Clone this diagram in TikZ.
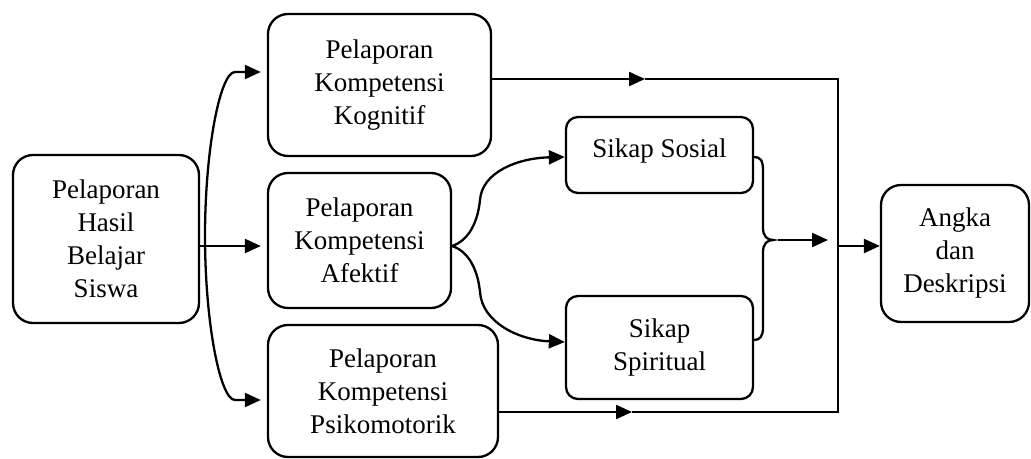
\documentclass[tikz,border=0pt]{standalone}
\usepackage{fontspec}
\setmainfont{Liberation Serif}
\usetikzlibrary{arrows.meta,calc}
\begin{document}
\begin{tikzpicture}[x=1pt,y=-1pt,line width=2.3pt,
  box/.style={draw,rounded corners=20pt,align=center,inner sep=0pt,
    font=\fontsize{27}{33}\selectfont},
  smallbox/.style={box,rounded corners=12pt},
  arr/.style={-{Triangle[length=16pt,width=14pt]}}]
\useasboundingbox (0,0) rectangle (1031,458);

\node[box,minimum width=186pt,minimum height=168pt] (hasil) at (106,239) {Pelaporan\\Hasil\\Belajar\\Siswa};
\node[box,minimum width=223pt,minimum height=142pt] (kog) at (379.5,85) {Pelaporan\\Kompetensi\\Kognitif};
\node[box,minimum width=183pt,minimum height=135pt] (afek) at (359.5,240.5) {Pelaporan\\Kompetensi\\Afektif};
\node[box,minimum width=230pt,minimum height=132pt] (psi) at (383,391) {Pelaporan\\Kompetensi\\Psikomotorik};
\node[smallbox,minimum width=187pt,minimum height=76pt,text depth=14pt] (sos) at (659.5,155) {Sikap Sosial};
\node[smallbox,minimum width=187pt,minimum height=103pt] (spi) at (659.5,347.5) {Sikap\\Spiritual};
\node[box,minimum width=148pt,minimum height=137pt] (ang) at (955,253.5) {Angka\\dan\\Deskripsi};

% left bracket arrows
\coordinate (t1) at ($(kog.west)+(-6,-13)$);
\coordinate (t3) at ($(psi.west)+(-6,9)$);
\draw[{Triangle[length=16pt,width=14pt]}-{Triangle[length=16pt,width=14pt]}]
  (t1) -- (235,72) .. controls (220,72) and (205,150) .. (205,236)
  .. controls (205,322) and (220,400) .. (235,400) -- (t3);
\draw[arr,shorten >=6pt] ($(hasil.east)+(0,7)$) -- ($(afek.west)+(0,5.5)$);

% afektif split
\coordinate (as) at ($(afek.east)+(0,5.5)$);
\draw[arr] (as) .. controls (470,240) and (478,220) .. (480,200)
  .. controls (482,172) and (518,158) .. ($(sos.west)+(0,2)$);
\draw[arr] (as) .. controls (470,252) and (478,272) .. (480,292)
  .. controls (482,322) and (518,340) .. ($(spi.west)+(0,-5.5)$);

% brace
\coordinate (bt) at (773,240);
\draw ($(sos.east)+(0,2)$) .. controls (760,157) and (763,160) .. (763,170) -- (763,228)
  .. controls (763,236) and (767,240) .. (bt)
  .. controls (767,240) and (763,244) .. (763,252) -- (763,328)
  .. controls (763,336) and (760,340) .. ($(spi.east)+(0,-7.5)$);
\coordinate (ba) at (778,240);
\coordinate (bb) at (828,240);
\draw[arr] (ba) -- (bb);

% right collector
\coordinate (k1) at (645,79);
\coordinate (jt) at (838,79);
\coordinate (jb) at (838,412);
\coordinate (p1) at (632,412);
\coordinate (jm) at (838,246);
\draw[arr] ($(kog.east)+(0,-6)$) -- (k1);
\draw[arr] ($(psi.east)+(0,21)$) -- (p1);
\draw (k1) -- (jt) -- (jb) -- (p1);
\draw[arr] (jm) -- ($(ang.west)+(0,-7.5)$);
\end{tikzpicture}
\end{document}
